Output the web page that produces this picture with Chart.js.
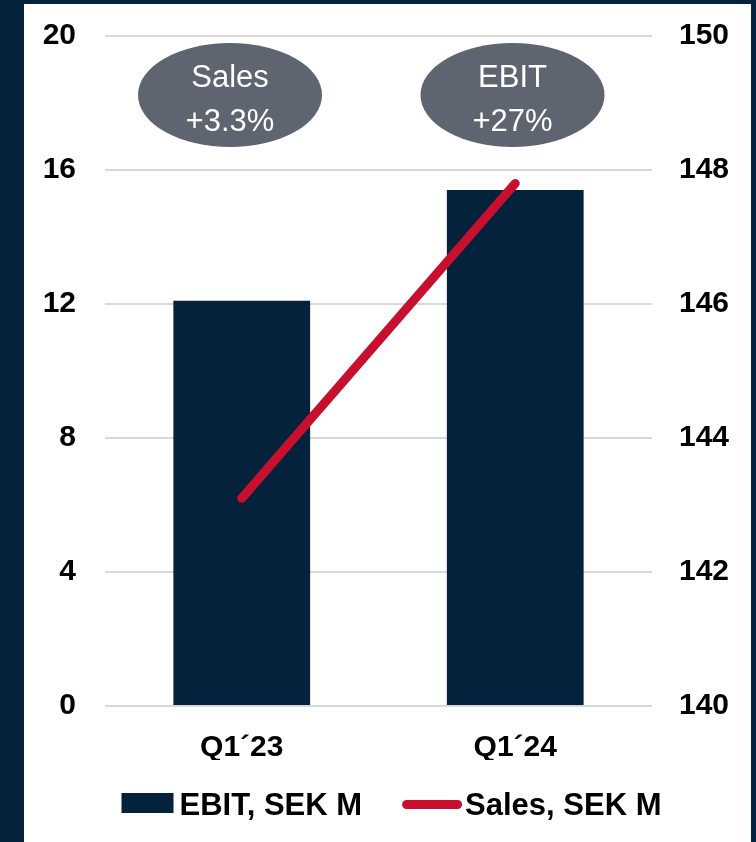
<!DOCTYPE html>
<html>
<head>
<meta charset="utf-8">
<script src="https://cdn.jsdelivr.net/npm/chart.js@4.4.1/dist/chart.umd.min.js"></script>
<style>
  html, body { margin: 0; padding: 0; background: #04223c; }
  body { width: 756px; height: 842px; position: relative; overflow: hidden; }
  #panel { position: absolute; left: 24px; top: 4px; width: 727px; height: 838px; background: #fff; }
  #panel canvas { display: block; }
</style>
</head>
<body>
<div id="panel"><canvas id="chart"></canvas></div>
<script>
const quarters = ['Q1´23', 'Q1´24'];
const ebitValues = [12.1, 15.4];      // SEK M, left axis
const salesValues = [143.1, 147.8];   // SEK M, right axis
const ebitTicks = [0, 4, 8, 12, 16, 20];
const salesTicks = [140, 142, 144, 146, 148, 150];
const seriesLabels = ['EBIT, SEK M', 'Sales, SEK M'];

const NAVY = '#04223c';
const RED = '#c8102e';
const BUBBLE = '#5e6571';
const GRID = '#d9d9d9';
const FONT = '"Liberation Sans", Arial, sans-serif';

function growthText(values, decimals) {
  const pct = (values[values.length - 1] / values[0] - 1) * 100;
  return `+${pct.toFixed(decimals)}%`;
}

// growth bubbles above the bars
const bubbles = [
  { title: 'Sales', text: growthText(salesValues, 1), cx: 206, cy: 91 },
  { title: 'EBIT', text: growthText(ebitValues, 0), cx: 488.5, cy: 91 },
];

const bubblePlugin = {
  id: 'growthBubbles',
  afterDraw(chart) {
    const { ctx } = chart;
    ctx.save();
    bubbles.forEach((b) => {
      ctx.fillStyle = BUBBLE;
      ctx.beginPath();
      ctx.ellipse(b.cx, b.cy, 92, 52, 0, 0, Math.PI * 2);
      ctx.fill();
      ctx.fillStyle = '#fff';
      ctx.font = `31px ${FONT}`;
      ctx.textAlign = 'center';
      ctx.textBaseline = 'alphabetic';
      ctx.fillText(b.title, b.cx, b.cy - 8);
      ctx.fillText(b.text, b.cx, b.cy + 36);
    });
    ctx.restore();
  },
};

// legend row at the bottom: filled box for bars, thick rounded stroke for the line
const legendPlugin = {
  id: 'bottomLegend',
  afterDraw(chart) {
    const { ctx } = chart;
    ctx.save();
    ctx.font = `bold 31px ${FONT}`;
    ctx.textBaseline = 'alphabetic';
    ctx.textAlign = 'left';
    const items = chart.data.datasets.map((ds) => {
      const isLine = ds.type === 'line';
      const markW = isLine ? 60 : 52;
      const gap = isLine ? 3 : 6;
      return { ds, isLine, markW, gap, w: markW + gap + ctx.measureText(ds.label).width };
    });
    const spacing = 40;
    const total = items.reduce((s, it) => s + it.w, 0) + spacing * (items.length - 1);
    let x = (chart.width - total) / 2 + 4;
    const baseline = 811;
    items.forEach((it) => {
      if (it.isLine) {
        ctx.strokeStyle = it.ds.borderColor;
        ctx.lineWidth = 9;
        ctx.lineCap = 'round';
        ctx.beginPath();
        ctx.moveTo(x + 4.5, 800.5);
        ctx.lineTo(x + it.markW - 4.5, 800.5);
        ctx.stroke();
      } else {
        ctx.fillStyle = it.ds.backgroundColor;
        ctx.fillRect(x, 789, it.markW, 20);
      }
      ctx.fillStyle = '#000';
      ctx.fillText(it.ds.label, x + it.markW + it.gap, baseline);
      x += it.w + spacing;
    });
    ctx.restore();
  },
};

// fixed axis boxes, no extra room for overflowing tick labels
function fixBox(size) {
  return (s) => {
    if (s.isHorizontal()) s.height = size;
    else s.width = size;
    s.paddingTop = 0;
    s.paddingBottom = 0;
    s.paddingLeft = 0;
    s.paddingRight = 0;
  };
}

new Chart(document.getElementById('chart'), {
  data: {
    labels: quarters,
    datasets: [
      {
        type: 'bar',
        label: seriesLabels[0],
        data: ebitValues,
        backgroundColor: NAVY,
        yAxisID: 'y',
        barPercentage: 1,
        categoryPercentage: 0.5,
        order: 2,
      },
      {
        type: 'line',
        label: seriesLabels[1],
        data: salesValues,
        borderColor: RED,
        borderWidth: 9,
        borderCapStyle: 'round',
        pointRadius: 0,
        tension: 0,
        yAxisID: 'y1',
        order: 1,
      },
    ],
  },
  options: {
    responsive: true,
    maintainAspectRatio: false,
    devicePixelRatio: 1,
    animation: false,
    layout: { padding: { top: 32, bottom: 82, left: 0, right: 0 } },
    plugins: {
      legend: { display: false },
      tooltip: { enabled: false },
    },
    scales: {
      x: {
        grid: { display: false },
        border: { display: false },
        ticks: { color: '#000', padding: 16, font: { family: FONT, size: 30, weight: 'bold' } },
        afterFit: fixBox(54),
      },
      y: {
        position: 'left',
        min: ebitTicks[0],
        max: ebitTicks[ebitTicks.length - 1],
        ticks: {
          stepSize: ebitTicks[1] - ebitTicks[0],
          color: '#000',
          padding: 29,
          font: { family: FONT, size: 30, weight: 'bold' },
        },
        grid: { color: GRID, lineWidth: 2, drawTicks: false },
        border: { display: false },
        afterFit: fixBox(81),
      },
      y1: {
        position: 'right',
        min: salesTicks[0],
        max: salesTicks[salesTicks.length - 1],
        ticks: {
          stepSize: salesTicks[1] - salesTicks[0],
          color: '#000',
          padding: 27,
          font: { family: FONT, size: 30, weight: 'bold' },
        },
        grid: { drawOnChartArea: false, drawTicks: false },
        border: { display: false },
        afterFit: fixBox(99),
      },
    },
  },
  plugins: [bubblePlugin, legendPlugin],
});
</script>
</body>
</html>
